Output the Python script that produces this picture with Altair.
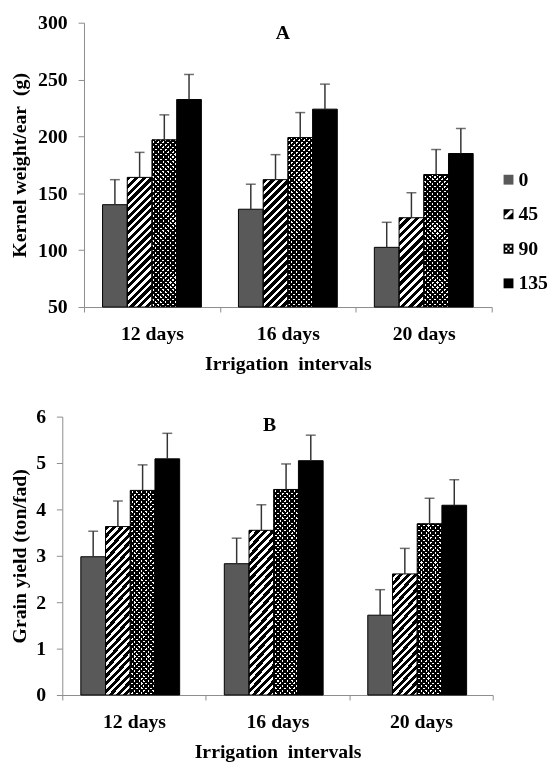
import altair as alt
import pandas as pd

FONT = "Liberation Serif"

intervals = ["12 days", "16 days", "20 days"]
rates = ["0", "45", "90", "135"]

# Panel A: kernel weight/ear (g)
kernel_0 = [140, 136, 102.5]
kernel_45 = [164, 162, 128.5]
kernel_90 = [197, 199, 166.5]
kernel_135 = [232.5, 224, 185]
kernel_err = [22, 22, 22, 22]

# Panel B: grain yield (ton/fad)
yield_0 = [2.98, 2.83, 1.72]
yield_45 = [3.63, 3.55, 2.61]
yield_90 = [4.41, 4.43, 3.69]
yield_135 = [5.09, 5.05, 4.09]
yield_err = [0.55, 0.55, 0.55, 0.55]


def make_records(series, errs):
    rows = []
    for r, vals, e in zip(rates, series, errs):
        for iv, v in zip(intervals, vals):
            rows.append({"interval": iv, "rate": r, "value": v, "top": v + e})
    return rows


def stripe_gradient(w, h, period, frac_black, forward=True):
    # diagonal stripes with a constant on-screen period for a bar of w x h pixels
    k = (w + h) / (w * w + h * h)
    n = max(1, int(round((w + h) / period)))
    stops = []
    for i in range(n):
        a = i / n
        b = (i + frac_black) / n
        c = (i + 1) / n
        stops += [
            {"offset": a, "color": "black"},
            {"offset": b, "color": "black"},
            {"offset": b, "color": "white"},
            {"offset": c, "color": "white"},
        ]
    if forward:
        x1, y1, x2, y2 = 0, 0, k * w, k * h
    else:
        x1, y1, x2, y2 = 0, 1, k * w, 1 - k * h
    return {"gradient": "linear", "x1": x1, "y1": y1, "x2": x2, "y2": y2, "stops": stops}


SYM_SQUARE = "M-1,-1H1V1H-1Z"
SYM_STRIPE = ("M-1,-1H1V1H-1Z M-0.82,-0.82V0.82H0.82V-0.82Z "
              "M-0.82,-0.82H0.35L-0.82,0.35Z M0.82,-0.35V0.82H-0.35Z")
holes = ""
for cx, cy in [(-0.45, -0.45), (0.45, -0.45), (0, 0), (-0.45, 0.45), (0.45, 0.45)]:
    s = 0.2
    holes += f" M{cx - s},{cy - s}V{cy + s}H{cx + s}V{cy - s}Z"
SYM_DOTS = "M-1,-1H1V1H-1Z" + holes


def panel(rows, ymin, ymax, ystep, ytitle, title, plot_w, shift, height,
          title_dx, title_dy, title_pad, leg_x, leg_y):
    bw = plot_w / 3 / 5.5

    def px_h(v):
        return (v - ymin) / (ymax - ymin) * height

    rows45 = [dict(r, grad=stripe_gradient(bw, px_h(r["value"]), 8, 0.55, True))
              for r in rows if r["rate"] == "45"]
    rows90a = [dict(r, grad=stripe_gradient(bw, px_h(r["value"]), 5, 0.55, True))
               for r in rows if r["rate"] == "90"]
    rows90b = [dict(r, grad=stripe_gradient(bw, px_h(r["value"]), 5, 0.55, False))
               for r in rows if r["rate"] == "90"]

    x = alt.X(
        "interval:N",
        sort=intervals,
        scale=alt.Scale(domain=intervals, paddingInner=0, paddingOuter=0,
                        range=[-shift, plot_w - shift]),
        axis=alt.Axis(title="Irrigation\u00a0 intervals", labelAngle=0, tickBand="extent",
                      tickSize=5, labelPadding=12, titlePadding=10),
    )
    xo = alt.XOffset("rate:N", sort=rates,
                     scale=alt.Scale(domain=rates, paddingInner=0, paddingOuter=0.75))
    yscale = alt.Scale(domain=[ymin, ymax], nice=False, zero=False)
    yvals = []
    v = ymin
    while v <= ymax + 1e-9:
        yvals.append(v)
        v += ystep
    yaxis_kw = dict(title=ytitle, values=yvals, tickSize=6, labelPadding=11, titlePadding=title_pad)
    if shift:
        yaxis_kw["offset"] = shift
    y = alt.Y("value:Q", scale=yscale, axis=alt.Axis(**yaxis_kw))

    data = alt.Data(values=rows)
    base = alt.Chart(data).encode(x=x, xOffset=xo)

    bars = base.mark_bar(strokeWidth=0).encode(
        y=y, y2=alt.datum(ymin),
        fill=alt.condition(alt.datum.rate == "0", alt.value("#595959"), alt.value("black")),
    )
    stripes = alt.Chart(alt.Data(values=rows45)).mark_bar(strokeWidth=0).encode(
        x=x, xOffset=xo, y="value:Q", y2=alt.datum(ymin),
        fill=alt.Fill("grad:N", scale=None),
    )
    dots1 = alt.Chart(alt.Data(values=rows90a)).mark_bar(strokeWidth=0).encode(
        x=x, xOffset=xo, y="value:Q", y2=alt.datum(ymin),
        fill=alt.Fill("grad:N", scale=None),
    )
    dots2 = alt.Chart(alt.Data(values=rows90b)).mark_bar(strokeWidth=0, blend="darken").encode(
        x=x, xOffset=xo, y="value:Q", y2=alt.datum(ymin),
        fill=alt.Fill("grad:N", scale=None),
    )
    outline = base.mark_bar(filled=False, stroke="black", strokeWidth=1).encode(
        y="value:Q", y2=alt.datum(ymin))
    whisk = base.mark_rule(color="#333333", strokeWidth=1.5).encode(y="value:Q", y2="top:Q")
    caps = base.mark_tick(color="#333333", thickness=1.5, size=10).encode(y="top:Q")

    leg = alt.Legend(
        title=None, orient="none", legendX=leg_x, legendY=leg_y, symbolSize=100,
        symbolStrokeColor="black", symbolStrokeWidth=0.8, symbolOpacity=1,
        labelFont=FONT, labelFontSize=20, labelFontWeight="bold", labelColor="black",
        labelOffset=0, rowPadding=15, padding=0,
    )
    pts = base.mark_point(filled=True, opacity=0).encode(
        y="value:Q",
        fill=alt.Fill("rate:N", sort=rates,
                      scale=alt.Scale(domain=rates, range=["#595959", "black", "black", "black"]),
                      legend=leg),
        shape=alt.Shape("rate:N", sort=rates,
                        scale=alt.Scale(domain=rates, range=[SYM_SQUARE, SYM_STRIPE, SYM_DOTS, SYM_SQUARE]),
                        legend=leg),
    )

    label = alt.Chart(alt.Data(values=[{"label": title, "interval": intervals[1]}])).mark_text(
        font=FONT, fontSize=20, fontWeight="bold", color="black",
        baseline="alphabetic", align="center", dx=title_dx, dy=title_dy,
    ).encode(x=alt.X("interval:N"), y=alt.datum(ymax), text="label:N")

    return alt.layer(bars, stripes, dots1, dots2, outline, whisk, caps, pts, label).properties(
        width=plot_w - shift, height=height,
    )


recA = make_records([kernel_0, kernel_45, kernel_90, kernel_135], kernel_err)
recB = make_records([yield_0, yield_45, yield_90, yield_135], yield_err)

chartA = panel(recA, 50, 300, 50, "Kernel weight/ear\u00a0 (g)", "A", 413, 0, 288,
               -5, 16, 8, 420, 149)
chartB = panel(recB, 0, 6, 1, "Grain yield (ton/fad)", "B", 436, 22, 282,
               -8, 15, 6, 420, 156)

chart = alt.concat(chartA, chartB, columns=1, spacing=34).properties(
    padding={"left": 2, "top": 0, "right": 0, "bottom": 0}
).configure_axis(
    labelFont=FONT, labelFontSize=20, labelFontWeight="bold", labelColor="black",
    titleFont=FONT, titleFontSize=20, titleFontWeight="bold", titleColor="black",
    domainColor="#8c8c8c", tickColor="#8c8c8c", grid=False,
).configure_view(strokeWidth=0)

chart.save("out.html", embed_options={"renderer": "svg", "actions": False})
